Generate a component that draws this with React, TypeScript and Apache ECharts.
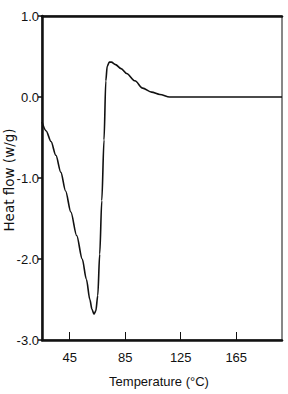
import React, { useEffect, useRef } from "react";
import * as echarts from "echarts";

const temperature = [25, 28, 31.5, 35, 38.6, 42, 45.8, 50, 54, 57, 59.5, 61, 62.5, 63.8, 65.2, 66.6, 68.1, 69.7, 71, 72, 73.5, 75, 78, 82, 86, 92, 97.5, 104, 110, 117, 130, 198];
const heatFlow = [-0.31, -0.42, -0.55, -0.72, -0.93, -1.16, -1.42, -1.71, -2.0, -2.25, -2.5, -2.62, -2.68, -2.64, -2.45, -1.94, -1.28, -0.53, 0.2, 0.38, 0.43, 0.43, 0.4, 0.35, 0.29, 0.2, 0.11, 0.06, 0.03, 0.0, 0.0, 0.0];
const xTicks = [45, 85, 125, 165];
const yTitle = "Heat flow (w/g)";
const xTitle = "Temperature (°C)";

const FONT = "'Liberation Sans Narrow', 'Arial Narrow', 'Liberation Sans', Arial, sans-serif";

export default function App() {
  const ref = useRef<HTMLDivElement>(null);
  useEffect(() => {
    if (!ref.current) return;
    const chart = echarts.init(ref.current, null, { renderer: "svg" });
    const data = temperature.map((t, i) => [t, heatFlow[i]]);
    chart.setOption({
      animation: false,
      backgroundColor: "#ffffff",
      grid: { left: 42, top: 16, right: 6, bottom: 54, show: true, borderColor: "#111", borderWidth: 1 },
      xAxis: [
        {
          type: "value",
          min: 25,
          max: 198,
          position: "bottom",
          axisLine: { show: true, onZero: false, lineStyle: { color: "#111", width: 2.5 } },
          axisTick: { show: true, inside: true, length: 8, customValues: xTicks, lineStyle: { color: "#111", width: 1 } },
          axisLabel: { customValues: xTicks, color: "#111", fontFamily: FONT, fontSize: 13, margin: 11 },
          splitLine: { show: false },
        },
        {
          type: "value",
          min: 25,
          max: 198,
          position: "top",
          axisLine: { show: true, onZero: false, lineStyle: { color: "#111", width: 2.5 } },
          axisTick: { show: false },
          axisLabel: { show: false },
          splitLine: { show: false },
        },
      ],
      yAxis: {
        type: "value",
        min: -3,
        max: 1,
        interval: 1,
        axisLine: { show: true, onZero: false, lineStyle: { color: "#111", width: 2.5 } },
        axisTick: { show: true, length: 4, lineStyle: { color: "#111", width: 1.5 } },
        axisLabel: { color: "#111", fontFamily: FONT, fontSize: 13, margin: 3, formatter: (v: number) => v.toFixed(1) },
        splitLine: { show: false },
      },
      series: [
        {
          type: "line",
          data,
          showSymbol: false,
          smooth: 0.3,
          smoothMonotone: "x",
          lineStyle: { color: "#111", width: 1.6 },
        },
      ],
      graphic: [
        {
          type: "text",
          x: 9,
          y: 180,
          rotation: Math.PI / 2,
          style: { text: yTitle, fontFamily: "'DejaVu Sans', sans-serif", fontSize: 13.5, fill: "#111", align: "center", verticalAlign: "middle" },
        },
        {
          type: "text",
          x: 159,
          y: 381,
          style: { text: xTitle, fontFamily: FONT, fontSize: 13, fill: "#111", align: "center", verticalAlign: "middle" },
        },
      ],
    });
    return () => chart.dispose();
  }, []);
  return <div ref={ref} style={{ width: 288, height: 394, position: "absolute", left: 0, top: 0 }} />;
}
